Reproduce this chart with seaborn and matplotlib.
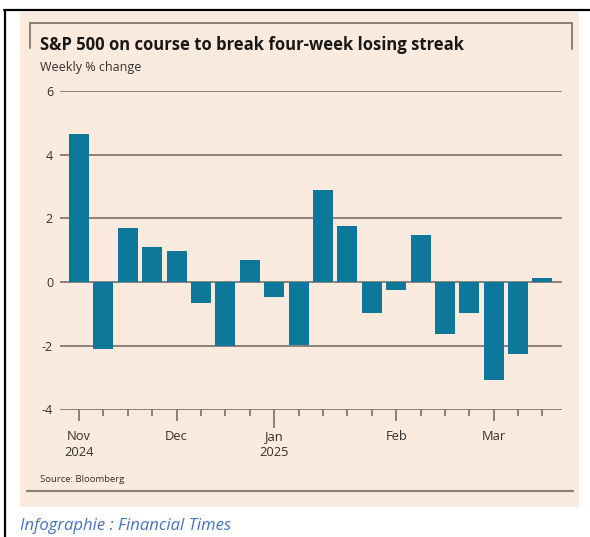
import matplotlib
matplotlib.use("Agg")
import matplotlib.pyplot as plt
import seaborn as sns
import pandas as pd
from matplotlib.lines import Line2D
from matplotlib.patches import Rectangle

# ---- data ----
weeks = list(range(20))
weekly_change = [4.65, -2.1, 1.7, 1.1, 0.97, -0.67, -2.0, 0.7, -0.47, -1.97,
                 2.9, 1.75, -0.97, -0.26, 1.47, -1.63, -0.97, -3.07, -2.26, 0.12]
month_pos = [0, 4, 8, 13, 17]
month_labels = ["Nov\n2024", "Dec", "Jan\n2025", "Feb", "Mar"]
y_ticks = [-4, -2, 0, 2, 4, 6]

title = "S&P 500 on course to break four-week losing streak"
subtitle = "Weekly % change"
source = "Source: Bloomberg"
credit = "Infographie : Financial Times"

BAR = "#0e789b"
PAPER = "#fbebdf"
GRID = "#6f655d"
FRAME = "#8a7f76"

sns.set_theme(style="white")
plt.rcParams["font.family"] = ["Open Sans", "DejaVu Sans"]
plt.rcParams["axes.unicode_minus"] = False

W, H = 590, 537
fig = plt.figure(figsize=(W / 100, H / 100), dpi=100)
fig.patch.set_facecolor("white")

def fx(px):
    return px / W

def fy(py):
    return 1 - py / H

# pink panel
fig.patches.append(Rectangle((fx(20), fy(507)), fx(579) - fx(20), fy(12) - fy(507),
                             transform=fig.transFigure, facecolor=PAPER, edgecolor="none", zorder=-5))
# black outer border (top & left)
fig.add_artist(Line2D([fx(4), fx(590)], [fy(10), fy(10)], color="black", lw=1.6))
fig.add_artist(Line2D([fx(5), fx(5)], [fy(10), fy(537)], color="black", lw=1.6))
# inner frame
fig.add_artist(Line2D([fx(30), fx(572)], [fy(23), fy(23)], color=FRAME, lw=1.4))
fig.add_artist(Line2D([fx(30), fx(30)], [fy(23), fy(48)], color=FRAME, lw=1.4))
fig.add_artist(Line2D([fx(572), fx(572)], [fy(23), fy(49)], color=FRAME, lw=1.4))
fig.add_artist(Line2D([fx(27), fx(573)], [fy(491), fy(491)], color=FRAME, lw=1.6))

# axes
ax = fig.add_axes([fx(60), fy(409.5), fx(562) - fx(60), fy(91) - fy(409.5)])
ax.set_zorder(2)
ax.set_facecolor("none")

df = pd.DataFrame({"week": weeks, "change": weekly_change})
sns.barplot(data=df, x="week", y="change", color=BAR, saturation=1, width=0.82,
            linewidth=0, ax=ax, zorder=3)

ax.set_xlim(-0.78, 19.8)
ax.set_ylim(-4, 6)
ax.set_yticks(y_ticks)
ax.set_yticklabels([str(v) for v in y_ticks])
ax.yaxis.grid(True, color=GRID, lw=1.1)
ax.set_axisbelow(True)
for s in ax.spines.values():
    s.set_visible(False)
ax.set_xlabel("")
ax.set_ylabel("")

ax.tick_params(axis="y", length=0, pad=5, labelsize=9, labelcolor="#33302e")
ax.set_xticks(month_pos)
ax.set_xticklabels(month_labels, linespacing=1.35)
ax.set_xticks([w for w in weeks if w not in month_pos], minor=True)
ax.tick_params(axis="x", which="major", direction="out", length=8, width=1.1,
               color=GRID, pad=6.5, labelsize=9.3, labelcolor="#33302e", bottom=True)
ax.tick_params(axis="x", which="minor", direction="out", length=4.3, width=1.1,
               color=GRID, bottom=True)
# longer year tick at Jan
ax.xaxis.get_major_ticks()[2].tick1line.set_markersize(13)

# texts
fig.text(fx(40), fy(45), title, fontsize=12, fontweight="bold", color="#1a1817",
         va="center", ha="left")
fig.text(fx(40), fy(68), subtitle, fontsize=9, color="#33302e", va="center", ha="left")
fig.text(fx(40), fy(480), source, fontsize=6.8, color="#33302e", va="center", ha="left")
fig.text(fx(20), fy(526), credit, fontsize=12, style="italic", color="#4472c4",
         va="center", ha="left")

fig.savefig("out.png", dpi=100, facecolor=fig.get_facecolor())
